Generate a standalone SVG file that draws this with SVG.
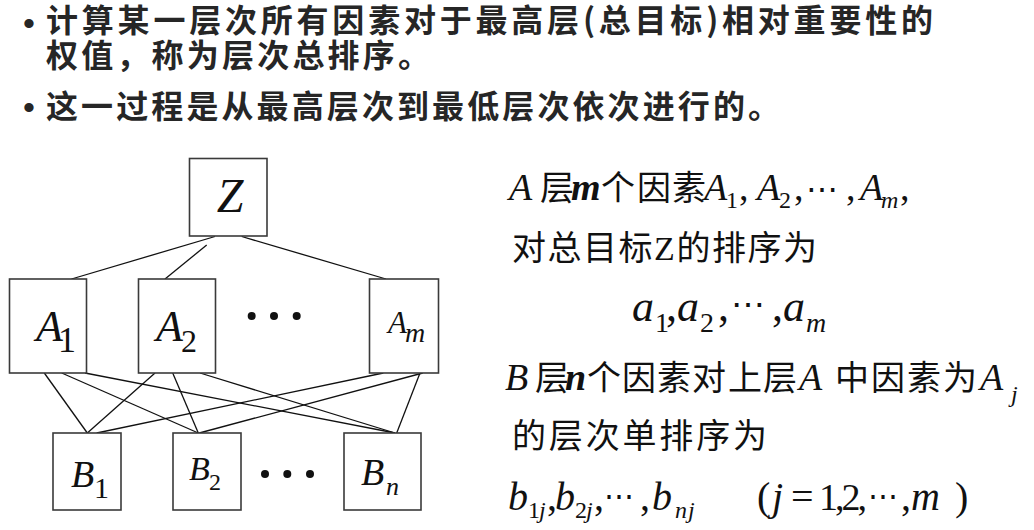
<svg xmlns="http://www.w3.org/2000/svg" width="1034" height="530" viewBox="0 0 1034 530" xml:lang="en">
<rect width="1034" height="530" fill="#fff"/>
<g id="heading" fill="#262626">
<text x="23" y="35" font-family="Liberation Sans, sans-serif" font-size="34">•</text>
<text x="23" y="119" font-family="Liberation Sans, sans-serif" font-size="34">•</text>
<text xml:lang="zh-CN" x="46" y="32" font-family="Noto Sans CJK SC, sans-serif" font-weight="bold" font-size="32" textLength="887" lengthAdjust="spacing">计算某一层次所有因素对于最高层(总目标)相对重要性的</text>
<text xml:lang="zh-CN" x="46" y="67" font-family="Noto Sans CJK SC, sans-serif" font-weight="bold" font-size="32" textLength="384" lengthAdjust="spacing">权值，称为层次总排序。</text>
<text xml:lang="zh-CN" x="46" y="118" font-family="Noto Sans CJK SC, sans-serif" font-weight="bold" font-size="32" textLength="734" lengthAdjust="spacing">这一过程是从最高层次到最低层次依次进行的。</text>
</g>
<g id="connectors" stroke="#111" stroke-width="1.3" fill="none">
<line x1="215" y1="236.5" x2="71.5" y2="279"/>
<line x1="206.7" y1="245" x2="165" y2="279"/>
<line x1="241.7" y1="236.5" x2="386" y2="279"/>
<line x1="44.3" y1="373" x2="87.3" y2="433"/>
<line x1="61.7" y1="373" x2="198.3" y2="433"/>
<line x1="85" y1="373" x2="395" y2="433"/>
<line x1="155" y1="373" x2="87.3" y2="433"/>
<line x1="172.7" y1="373" x2="198.3" y2="433"/>
<line x1="200" y1="373" x2="395" y2="433"/>
<line x1="383.3" y1="373" x2="96.7" y2="433"/>
<line x1="422.7" y1="373" x2="199.3" y2="433"/>
<line x1="420" y1="373" x2="396.7" y2="433"/>
</g>
<defs>
<rect id="boxA" width="77" height="94" fill="#fff" stroke="#3a3a3a" stroke-width="1.6"/>
<rect id="boxB" width="68" height="77" fill="#fff" stroke="#3a3a3a" stroke-width="1.6"/>
<circle id="dot" r="4" fill="#111"/>
</defs>
<g id="node-Z" fill="#111">
<rect x="189.5" y="158.5" width="77.5" height="77.5" fill="#fff" stroke="#3a3a3a" stroke-width="1.6"/>
<text x="230" y="212" font-family="Liberation Serif, serif" font-style="italic" font-size="48" text-anchor="middle">Z</text>
</g>
<g id="node-A1" fill="#111">
<use href="#boxA" x="9.5" y="279"/>
<text x="36" y="341" font-family="Liberation Serif, serif" font-style="italic" font-size="44">A</text>
<text x="58" y="352" font-family="Liberation Serif, serif" font-size="36">1</text>
</g>
<g id="node-A2" fill="#111">
<use href="#boxA" x="138.5" y="279"/>
<text x="156" y="341" font-family="Liberation Serif, serif" font-style="italic" font-size="44">A</text>
<text x="181" y="352" font-family="Liberation Serif, serif" font-size="32">2</text>
</g>
<g id="dots-A">
<use href="#dot" x="251.7" y="316"/>
<use href="#dot" x="274" y="316"/>
<use href="#dot" x="296.7" y="316"/>
</g>
<g id="node-Am" fill="#111">
<rect x="369.5" y="279" width="69" height="94" fill="#fff" stroke="#3a3a3a" stroke-width="1.6"/>
<text x="388" y="333" font-family="Liberation Serif, serif" font-style="italic" font-size="31">A</text>
<text x="405" y="342" font-family="Liberation Serif, serif" font-style="italic" font-size="28">m</text>
</g>
<g id="node-B1" fill="#111">
<use href="#boxB" x="53" y="433"/>
<text x="71" y="487" font-family="Liberation Serif, serif" font-style="italic" font-size="38">B</text>
<text x="94" y="498" font-family="Liberation Serif, serif" font-size="30">1</text>
</g>
<g id="node-B2" fill="#111">
<use href="#boxB" x="173" y="433"/>
<text x="189" y="480" font-family="Liberation Serif, serif" font-style="italic" font-size="34">B</text>
<text x="209" y="490" font-family="Liberation Serif, serif" font-size="24">2</text>
</g>
<g id="dots-B">
<use href="#dot" x="265" y="474"/>
<use href="#dot" x="287.3" y="474"/>
<use href="#dot" x="310" y="474"/>
</g>
<g id="node-Bn" fill="#111">
<rect x="344" y="433" width="77" height="77" fill="#fff" stroke="#3a3a3a" stroke-width="1.6"/>
<text x="361" y="485" font-family="Liberation Serif, serif" font-style="italic" font-size="38">B</text>
<text x="386" y="495" font-family="Liberation Serif, serif" font-style="italic" font-size="26">n</text>
</g>
<g id="text-right" fill="#111">
<text x="509" y="200" font-family="Liberation Serif, serif" font-style="italic" font-size="38">A</text>
<text x="571" y="200" font-family="Liberation Serif, serif" font-style="italic" font-size="38" font-weight="bold">m</text>
<text x="704" y="200" font-family="Liberation Serif, serif" font-style="italic" font-size="38">A</text>
<text x="757" y="200" font-family="Liberation Serif, serif" font-style="italic" font-size="38">A</text>
<text x="860" y="200" font-family="Liberation Serif, serif" font-style="italic" font-size="38">A</text>
<text x="881" y="208" font-family="Liberation Serif, serif" font-style="italic" font-size="24">m</text>
<text x="726" y="208" font-family="Liberation Serif, serif" font-size="24">1</text>
<text x="739" y="200" font-family="Liberation Serif, serif" font-size="38">,</text>
<text x="779" y="208" font-family="Liberation Serif, serif" font-size="24">2</text>
<text x="794" y="200" font-family="Liberation Serif, serif" font-size="38">,</text>
<text x="806" y="200" font-family="DejaVu Serif, serif" font-size="32">⋯</text>
<text x="846" y="200" font-family="Liberation Serif, serif" font-size="38">,</text>
<text x="900" y="200" font-family="Liberation Serif, serif" font-size="38">,</text>
<text xml:lang="zh-CN" x="540" y="200" font-family="Noto Sans CJK SC, sans-serif" font-size="34">层</text>
<text xml:lang="zh-CN" x="601" y="200" font-family="Noto Sans CJK SC, sans-serif" font-size="34">个</text>
<text xml:lang="zh-CN" x="637" y="200" font-family="Noto Sans CJK SC, sans-serif" font-size="34">因</text>
<text xml:lang="zh-CN" x="672" y="200" font-family="Noto Sans CJK SC, sans-serif" font-size="34">素</text>

<text xml:lang="zh-CN" x="512" y="260" font-family="Liberation Serif, Noto Sans CJK SC, serif" font-size="34" textLength="305" lengthAdjust="spacing">对总目标Z的排序为</text>

<text x="632" y="321" font-family="Liberation Serif, serif" font-style="italic" font-size="44">a</text>
<text x="655" y="332" font-family="Liberation Serif, serif" font-size="28">1</text>
<text x="666" y="321" font-family="Liberation Serif, serif" font-size="44">,</text>
<text x="677" y="321" font-family="Liberation Serif, serif" font-style="italic" font-size="44">a</text>
<text x="700" y="332" font-family="Liberation Serif, serif" font-size="28">2</text>
<text x="718" y="321" font-family="Liberation Serif, serif" font-size="44">,</text>
<text x="731" y="316" font-family="DejaVu Serif, serif" font-size="34">⋯</text>
<text x="772" y="321" font-family="Liberation Serif, serif" font-size="44">,</text>
<text x="783" y="321" font-family="Liberation Serif, serif" font-style="italic" font-size="44">a</text>
<text x="806" y="332" font-family="Liberation Serif, serif" font-style="italic" font-size="28">m</text>

<text x="505" y="390" font-family="Liberation Serif, serif" font-style="italic" font-size="38">B</text>
<text xml:lang="zh-CN" x="535" y="390" font-family="Noto Sans CJK SC, sans-serif" font-size="34">层</text>
<text x="565" y="390" font-family="Liberation Serif, serif" font-style="italic" font-size="38" font-weight="bold">n</text>
<text xml:lang="zh-CN" x="587" y="390" font-family="Noto Sans CJK SC, sans-serif" font-size="34">个</text>
<text xml:lang="zh-CN" x="622" y="390" font-family="Noto Sans CJK SC, sans-serif" font-size="34">因</text>
<text xml:lang="zh-CN" x="657" y="390" font-family="Noto Sans CJK SC, sans-serif" font-size="34">素</text>
<text xml:lang="zh-CN" x="692" y="390" font-family="Noto Sans CJK SC, sans-serif" font-size="34">对</text>
<text xml:lang="zh-CN" x="728" y="390" font-family="Noto Sans CJK SC, sans-serif" font-size="34">上</text>
<text xml:lang="zh-CN" x="763" y="390" font-family="Noto Sans CJK SC, sans-serif" font-size="34">层</text>
<text x="799" y="390" font-family="Liberation Serif, serif" font-style="italic" font-size="38">A</text>
<text xml:lang="zh-CN" x="835" y="390" font-family="Noto Sans CJK SC, sans-serif" font-size="34">中</text>
<text xml:lang="zh-CN" x="871" y="390" font-family="Noto Sans CJK SC, sans-serif" font-size="34">因</text>
<text xml:lang="zh-CN" x="907" y="390" font-family="Noto Sans CJK SC, sans-serif" font-size="34">素</text>
<text xml:lang="zh-CN" x="943" y="390" font-family="Noto Sans CJK SC, sans-serif" font-size="34">为</text>
<text x="980" y="390" font-family="Liberation Serif, serif" font-style="italic" font-size="38">A</text>
<text x="1011" y="402" font-family="Liberation Serif, serif" font-style="italic" font-size="24">j</text>

<text xml:lang="zh-CN" x="512" y="448" font-family="Noto Sans CJK SC, sans-serif" font-size="34" textLength="255" lengthAdjust="spacing">的层次单排序为</text>

<text x="508" y="510" font-family="Liberation Serif, serif" font-style="italic" font-size="40">b</text>
<text x="528" y="518" font-family="Liberation Serif, serif" font-size="24">1</text>
<text x="539" y="518" font-family="Liberation Serif, serif" font-style="italic" font-size="24">j</text>
<text x="547" y="510" font-family="Liberation Serif, serif" font-size="40">,</text>
<text x="555" y="510" font-family="Liberation Serif, serif" font-style="italic" font-size="40">b</text>
<text x="575" y="518" font-family="Liberation Serif, serif" font-size="24">2</text>
<text x="586" y="518" font-family="Liberation Serif, serif" font-style="italic" font-size="24">j</text>
<text x="594" y="510" font-family="Liberation Serif, serif" font-size="40">,</text>
<text x="604" y="506" font-family="DejaVu Serif, serif" font-size="30">⋯</text>
<text x="640" y="510" font-family="Liberation Serif, serif" font-size="40">,</text>
<text x="652" y="510" font-family="Liberation Serif, serif" font-style="italic" font-size="40">b</text>
<text x="675" y="518" font-family="Liberation Serif, serif" font-style="italic" font-size="24">n</text>
<text x="688" y="518" font-family="Liberation Serif, serif" font-style="italic" font-size="24">j</text>
<text x="757" y="510" font-family="Liberation Serif, serif" font-size="40">(</text>
<text x="772" y="510" font-family="Liberation Serif, serif" font-style="italic" font-size="40">j</text>
<text x="791" y="510" font-family="Liberation Serif, serif" font-size="40">=</text>
<text x="819" y="510" font-family="Liberation Serif, serif" font-size="38" textLength="48" lengthAdjust="spacing">1,2,</text>
<text x="868" y="506" font-family="DejaVu Serif, serif" font-size="30">⋯</text>
<text x="901" y="510" font-family="Liberation Serif, serif" font-size="40">,</text>
<text x="911" y="510" font-family="Liberation Serif, serif" font-style="italic" font-size="40">m</text>
<text x="955" y="510" font-family="Liberation Serif, serif" font-size="40">)</text>
</g>
</svg>
